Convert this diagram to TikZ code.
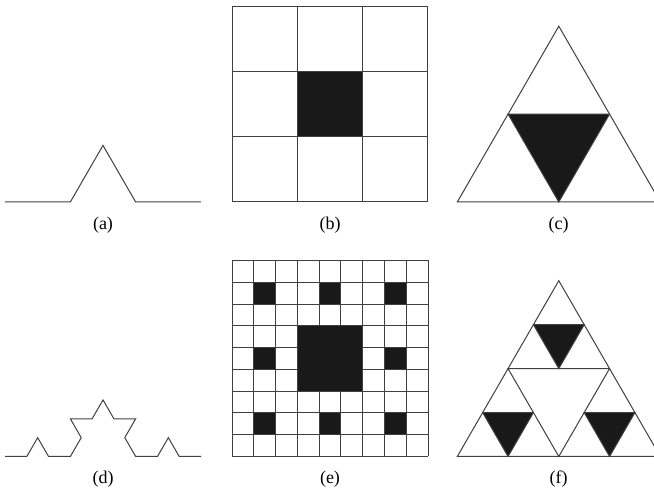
\documentclass[tikz,border=0pt]{standalone}
\usepackage{fontspec}
\setmainfont{Liberation Serif}
\usetikzlibrary{positioning, calc}

\tikzset{
  fractal/.style={draw=black!75, line width=1pt, line join=miter},
  solid block/.style={fill=black!90, draw=black!75, line width=1pt},
  caption/.style={font=\fontsize{18}{20}\selectfont, inner sep=0pt}
}

\begin{document}
\begin{tikzpicture}[x=1pt, y=1pt]
    \useasboundingbox (0,0) rectangle (654,492);

    % top row: first generation
    \coordinate (ka) at (5,290);
    \draw[fractal] (ka) \foreach \a in {0,60,-60,0} { -- ++(\a:65.33) };

    \begin{scope}[shift={(232pt,290pt)}, x=65.33pt, y=65.33pt]
        \draw[fractal] (0,0) grid[step=1] (3,3);
        \filldraw[solid block] (1,1) rectangle (2,2);
    \end{scope}

    \begin{scope}[shift={(457.3pt,290pt)}, x=203pt, y=203pt]
        \draw[fractal] (0,0) -- (1,0) -- (0.5,0.866) -- cycle;
        \filldraw[solid block] (0.25,0.433) -- (0.75,0.433) -- (0.5,0) -- cycle;
    \end{scope}

    % bottom row: second generation
    \coordinate (kd) at (5,35.5);
    \draw[fractal] (kd) \foreach \a in {0,60,-60,0,60,120,0,60,-60,0,-120,-60,0,60,-60,0} { -- ++(\a:21.78) };

    \begin{scope}[shift={(232pt,35.5pt)}, x=21.78pt, y=21.78pt]
        \draw[fractal] (0,0) grid[step=1] (9,9);
        \filldraw[solid block] (3,3) rectangle (6,6);
        \foreach \i/\j in {0/0, 1/0, 2/0, 0/1, 2/1, 0/2, 1/2, 2/2} {
            \filldraw[solid block] (3*\i+1,3*\j+1) rectangle (3*\i+2,3*\j+2);
        }
    \end{scope}

    \begin{scope}[shift={(457.3pt,35.5pt)}, x=203pt, y=203pt]
        \draw[fractal] (0,0) -- (1,0) -- (0.5,0.866) -- cycle;
        \draw[fractal] (0.25,0.433) -- (0.75,0.433) -- (0.5,0) -- cycle;
        \foreach \sx/\sy in {0/0, 0.5/0, 0.25/0.433} {
            \filldraw[solid block] (\sx+0.125,\sy+0.2165) -- (\sx+0.375,\sy+0.2165) -- (\sx+0.25,\sy) -- cycle;
        }
    \end{scope}

    % captions
    \node[caption] (capa) at (103,267) {(a)};
    \node[caption] (capb) at (330,267) {(b)};
    \node[caption] (capc) at (558.7,267) {(c)};
    \node[caption] (capd) at (103,13) {(d)};
    \node[caption] (cape) at (330,13) {(e)};
    \node[caption] (capf) at (558.7,13) {(f)};
\end{tikzpicture}
\end{document}
